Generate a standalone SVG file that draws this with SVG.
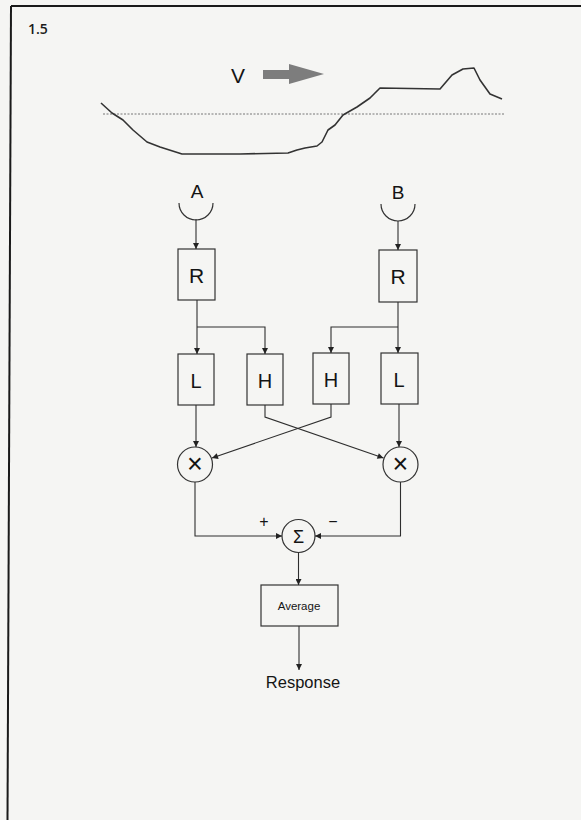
<svg xmlns="http://www.w3.org/2000/svg" width="581" height="820" viewBox="0 0 581 820">
<defs>
<marker id="ah" viewBox="0 0 10 10" refX="10" refY="5" markerWidth="7" markerHeight="6" markerUnits="userSpaceOnUse" orient="auto">
<path d="M0,0 L10,5 L0,10 z" fill="#222"/>
</marker>
<style>
.bx{fill:none;stroke:#333;stroke-width:1.2}
.ln{fill:none;stroke:#333;stroke-width:1.1}
.ar{fill:none;stroke:#2e2e2e;stroke-width:1.1;marker-end:url(#ah)}
.lb{font-family:"Liberation Sans",Arial,sans-serif;fill:#141414;text-anchor:middle}
.cl{fill:none;stroke:#333;stroke-width:1.2}
</style>
</defs>
<rect x="0" y="0" width="581" height="820" fill="#f5f5f3"/>
<g id="frame">
<line x1="11" y1="6" x2="581" y2="6" stroke="#1a1a1a" stroke-width="2"/>
<line x1="11" y1="6" x2="7.5" y2="820" stroke="#1a1a1a" stroke-width="2"/>
<text x="28" y="34" font-family="'Open Sans','Liberation Sans',sans-serif" font-size="14" font-weight="600" fill="#1a1a1a">1.5</text>
</g>
<g id="stimulus">
<text class="lb" x="238" y="83" font-size="21">V</text>
<rect x="263" y="70" width="28" height="9" fill="#7d7d7d"/>
<polygon points="289,64 324,74 289,84" fill="#7d7d7d"/>
<line x1="103" y1="114" x2="505" y2="114" stroke="#777" stroke-width="1" stroke-dasharray="2,1.5"/>
<polyline fill="none" stroke="#333" stroke-width="1.6" stroke-linejoin="round" points="101,103 112,113 123,120 133,130 147,142 160,147 182,154 240,154 288,153 297,150 305,148 317,146 322,142 328,130 335,125 343,115 357,107 370,98 380,88 440,89 452,75 463,69 474,68 480,80 490,94 502,99"/>
</g>
<g id="receptorA">
<text class="lb" x="197" y="198" font-size="19">A</text>
<path class="cl" d="M179,203 A17,17 0 0 0 213,203"/>
</g>
<g id="receptorB">
<text class="lb" x="398" y="199" font-size="19">B</text>
<path class="cl" d="M381,204 A17,17 0 0 0 415,204"/>
</g>
<g id="R1"><rect class="bx" x="178" y="249" width="37" height="51"/><text class="lb" x="196.5" y="283" font-size="21">R</text></g>
<g id="R2"><rect class="bx" x="379" y="250" width="38" height="52"/><text class="lb" x="398" y="284" font-size="21">R</text></g>
<g id="L1"><rect class="bx" x="178" y="354" width="36" height="51"/><text class="lb" x="196" y="387.5" font-size="20">L</text></g>
<g id="H1"><rect class="bx" x="247" y="354" width="36" height="51"/><text class="lb" x="265" y="387.5" font-size="20">H</text></g>
<g id="H2"><rect class="bx" x="313" y="353" width="36" height="51"/><text class="lb" x="331" y="386.5" font-size="20">H</text></g>
<g id="L2"><rect class="bx" x="381" y="353" width="37" height="51"/><text class="lb" x="399" y="386.5" font-size="20">L</text></g>
<g id="M1"><circle class="cl" cx="195" cy="464.5" r="17.5"/><text class="lb" x="195" y="473" font-size="27">×</text></g>
<g id="M2"><circle class="cl" cx="400.5" cy="464.5" r="17.5"/><text class="lb" x="400.5" y="473" font-size="27">×</text></g>
<g id="S"><circle class="cl" cx="298.5" cy="536" r="16.5"/><text class="lb" x="298.5" y="543" font-size="18">Σ</text></g>
<g id="avg"><rect class="bx" x="261" y="585" width="77" height="41"/><text class="lb" x="299" y="610" font-size="11.5">Average</text></g>
<g id="resp"><text class="lb" x="303" y="688" font-size="16.5">Response</text></g>
<g id="signs">
<text class="lb" x="264" y="527" font-size="16">+</text>
<text class="lb" x="333" y="527" font-size="16">−</text>
</g>
<g id="connectors">
<line class="ar" x1="196" y1="219" x2="196" y2="249"/>
<line class="ar" x1="398" y1="221" x2="398" y2="250"/>
<line class="ar" x1="197" y1="300" x2="197" y2="354"/>
<polyline class="ar" points="197,327 265,327 265,354"/>
<line class="ar" x1="398" y1="302" x2="398" y2="353"/>
<polyline class="ar" points="398,327 331,327 331,353"/>
<line class="ar" x1="196" y1="405" x2="196" y2="447"/>
<line class="ar" x1="399" y1="404" x2="399" y2="447"/>
<polyline class="ar" points="265,405 265,417 383.5,458"/>
<polyline class="ar" points="331,404 331,417 212,458"/>
<polyline class="ar" points="195,482 195,536 282,536"/>
<polyline class="ar" points="400.5,482 400.5,536 315,536"/>
<line class="ar" x1="298.5" y1="552.5" x2="298.5" y2="585"/>
<line class="ar" x1="299" y1="626" x2="299" y2="670"/>
</g>
</svg>
